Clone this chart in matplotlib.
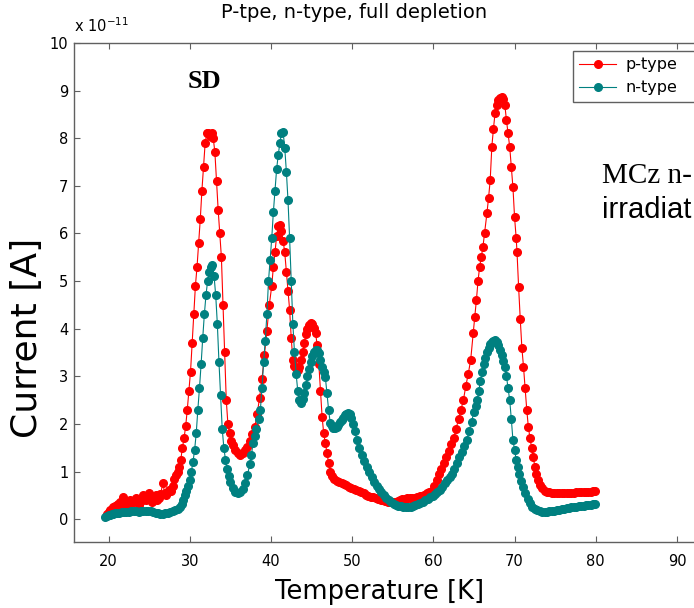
import numpy as np
import matplotlib
matplotlib.use('Agg')
import matplotlib.pyplot as plt

# p-type: temperature [K], current [x1e-11 A]
p_temp = [19.8, 20.0, 20.2, 20.4, 20.6, 20.8, 21.0, 21.2, 21.4, 21.6, 21.8, 22.0,
          22.2, 22.4, 22.6, 22.8, 23.0, 23.2, 23.4, 23.6, 23.8, 24.0, 24.2, 24.4,
          24.6, 24.8, 25.0, 25.2, 25.4, 25.6, 25.8, 26.0, 26.2, 26.4, 26.7, 26.9,
          27.1, 27.3, 27.5, 27.7, 27.9, 28.1, 28.3, 28.5, 28.7, 28.9, 29.1, 29.3,
          29.5, 29.7, 29.9, 30.1, 30.3, 30.5, 30.7, 30.9, 31.1, 31.3, 31.5, 31.7,
          31.9, 32.1, 32.3, 32.5, 32.7, 32.9, 33.1, 33.3, 33.5, 33.7, 33.9, 34.1,
          34.3, 34.5, 34.7, 34.9, 35.1, 35.3, 35.6, 35.9, 36.2, 36.5, 36.8, 37.1,
          37.4, 37.7, 38.0, 38.3, 38.6, 38.9, 39.2, 39.5, 39.8, 40.1, 40.3, 40.5,
          40.7, 40.9, 41.1, 41.3, 41.5, 41.7, 41.9, 42.1, 42.3, 42.5, 42.7, 42.9,
          43.1, 43.3, 43.5, 43.7, 43.9, 44.1, 44.3, 44.5, 44.7, 44.9, 45.1, 45.3,
          45.5, 45.7, 45.9, 46.1, 46.3, 46.5, 46.7, 46.9, 47.1, 47.3, 47.5, 47.8,
          48.1, 48.4, 48.7, 49.0, 49.3, 49.6, 49.9, 50.2, 50.5, 50.8, 51.1, 51.4,
          51.7, 52.0, 52.3, 52.6, 52.9, 53.2, 53.5, 53.8, 54.1, 54.4, 54.7, 55.0,
          55.3, 55.6, 55.9, 56.2, 56.5, 56.8, 57.1, 57.4, 57.7, 58.0, 58.3, 58.6,
          58.9, 59.2, 59.5, 59.8, 60.1, 60.4, 60.7, 61.0, 61.3, 61.6, 61.9, 62.2,
          62.5, 62.8, 63.1, 63.4, 63.7, 64.0, 64.3, 64.6, 64.9, 65.1, 65.3, 65.5,
          65.7, 65.9, 66.1, 66.3, 66.6, 66.8, 67.0, 67.2, 67.4, 67.6, 67.8, 68.0,
          68.2, 68.4, 68.6, 68.8, 69.0, 69.2, 69.4, 69.6, 69.8, 70.0, 70.2, 70.3,
          70.5, 70.7, 70.9, 71.1, 71.3, 71.5, 71.7, 71.9, 72.1, 72.3, 72.5, 72.7,
          72.9, 73.1, 73.4, 73.7, 74.0, 74.3, 74.6, 74.9, 75.2, 75.5, 75.8, 76.1,
          76.4, 76.7, 77.0, 77.3, 77.6, 77.9, 78.2, 78.5, 78.8, 79.1, 79.4, 79.7,
          79.9]
p_curr = [0.10, 0.15, 0.19, 0.22, 0.25, 0.28, 0.30, 0.32, 0.35, 0.30, 0.46, 0.33,
          0.30, 0.36, 0.40, 0.33, 0.35, 0.40, 0.45, 0.35, 0.30, 0.38, 0.50, 0.42,
          0.40, 0.48, 0.55, 0.42, 0.35, 0.42, 0.50, 0.40, 0.45, 0.52, 0.76, 0.55,
          0.50, 0.58, 0.62, 0.60, 0.70, 0.85, 0.92, 1.00, 1.10, 1.25, 1.50, 1.70,
          1.95, 2.30, 2.70, 3.10, 3.70, 4.30, 4.90, 5.30, 5.80, 6.30, 6.90, 7.40,
          7.90, 8.10, 8.10, 8.05, 8.10, 8.00, 7.70, 7.10, 6.50, 6.00, 5.50, 4.50,
          3.50, 2.50, 2.00, 1.80, 1.65, 1.55, 1.45, 1.38, 1.34, 1.38, 1.45, 1.52,
          1.65, 1.78, 1.93, 2.20, 2.55, 2.95, 3.45, 3.95, 4.50, 4.90, 5.30, 5.60,
          5.95, 6.15, 6.18, 6.05, 5.85, 5.60, 5.20, 4.80, 4.40, 3.80, 3.34, 3.22,
          3.18, 3.13, 3.20, 3.35, 3.50, 3.70, 3.88, 4.00, 4.08, 4.12, 4.10, 4.02,
          3.90, 3.65, 3.25, 2.70, 2.15, 1.80, 1.60, 1.39, 1.18, 1.00, 0.90, 0.85,
          0.81, 0.78, 0.76, 0.73, 0.71, 0.68, 0.66, 0.64, 0.62, 0.60, 0.57, 0.54,
          0.51, 0.49, 0.47, 0.46, 0.45, 0.43, 0.41, 0.40, 0.38, 0.37, 0.36, 0.36,
          0.37, 0.38, 0.40, 0.42, 0.43, 0.44, 0.44, 0.45, 0.45, 0.46, 0.48, 0.49,
          0.51, 0.54, 0.57, 0.60, 0.70, 0.82, 0.94, 1.05, 1.17, 1.30, 1.43, 1.57,
          1.70, 1.90, 2.10, 2.30, 2.50, 2.80, 3.05, 3.35, 3.90, 4.25, 4.60, 5.00,
          5.30, 5.50, 5.71, 6.00, 6.43, 6.75, 7.12, 7.82, 8.20, 8.53, 8.70, 8.80,
          8.85, 8.87, 8.83, 8.70, 8.38, 8.10, 7.82, 7.40, 6.97, 6.34, 5.90, 5.61,
          4.87, 4.20, 3.60, 3.20, 2.75, 2.30, 1.93, 1.70, 1.50, 1.30, 1.10, 0.95,
          0.82, 0.72, 0.65, 0.60, 0.57, 0.56, 0.55, 0.55, 0.55, 0.55, 0.55, 0.55,
          0.55, 0.55, 0.55, 0.55, 0.56, 0.56, 0.56, 0.57, 0.57, 0.57, 0.58, 0.59,
          0.59]

# n-type
n_temp = [19.6, 19.8, 20.0, 20.2, 20.4, 20.6, 20.8, 21.0, 21.3, 21.6, 21.9, 22.2,
          22.5, 22.8, 23.1, 23.4, 23.7, 24.0, 24.3, 24.6, 24.9, 25.2, 25.5, 25.8,
          26.1, 26.4, 26.7, 27.0, 27.3, 27.6, 27.9, 28.2, 28.5, 28.8, 29.0, 29.2,
          29.4, 29.6, 29.8, 30.0, 30.2, 30.4, 30.6, 30.8, 31.0, 31.2, 31.4, 31.6,
          31.8, 32.0, 32.2, 32.4, 32.6, 32.8, 33.0, 33.2, 33.4, 33.6, 33.8, 34.0,
          34.2, 34.4, 34.6, 34.8, 35.0, 35.3, 35.6, 35.9, 36.2, 36.5, 36.8, 37.1,
          37.4, 37.6, 37.8, 38.0, 38.2, 38.5, 38.7, 38.9, 39.1, 39.3, 39.5, 39.7,
          39.9, 40.1, 40.3, 40.5, 40.7, 40.9, 41.1, 41.3, 41.5, 41.7, 41.9, 42.1,
          42.3, 42.5, 42.7, 42.9, 43.1, 43.3, 43.5, 43.7, 43.9, 44.1, 44.3, 44.5,
          44.7, 44.9, 45.1, 45.3, 45.5, 45.7, 45.9, 46.1, 46.3, 46.5, 46.7, 46.9,
          47.1, 47.3, 47.5, 47.7, 47.9, 48.1, 48.3, 48.5, 48.7, 48.9, 49.1, 49.3,
          49.5, 49.7, 49.9, 50.1, 50.3, 50.6, 50.9, 51.2, 51.5, 51.8, 52.1, 52.4,
          52.7, 53.0, 53.3, 53.6, 53.9, 54.2, 54.5, 54.8, 55.1, 55.4, 55.7, 56.0,
          56.3, 56.6, 56.9, 57.2, 57.5, 57.8, 58.1, 58.4, 58.7, 59.0, 59.3, 59.6,
          59.9, 60.2, 60.5, 60.8, 61.1, 61.4, 61.7, 62.0, 62.3, 62.6, 62.9, 63.2,
          63.5, 63.8, 64.1, 64.4, 64.7, 65.0, 65.2, 65.4, 65.6, 65.8, 66.0, 66.2,
          66.4, 66.6, 66.8, 67.0, 67.2, 67.4, 67.6, 67.8, 68.0, 68.2, 68.4, 68.6,
          68.8, 69.0, 69.2, 69.4, 69.6, 69.8, 70.0, 70.2, 70.4, 70.6, 70.8, 71.0,
          71.3, 71.6, 71.9, 72.2, 72.5, 72.8, 73.1, 73.4, 73.7, 74.0, 74.3, 74.6,
          74.9, 75.2, 75.5, 75.8, 76.1, 76.4, 76.7, 77.0, 77.3, 77.6, 77.9, 78.2,
          78.5, 78.8, 79.1, 79.4, 79.7, 79.9]
n_curr = [0.04, 0.06, 0.08, 0.09, 0.10, 0.11, 0.12, 0.12, 0.13, 0.14, 0.15, 0.15,
          0.15, 0.16, 0.16, 0.16, 0.15, 0.16, 0.18, 0.18, 0.17, 0.16, 0.15, 0.13,
          0.12, 0.11, 0.11, 0.12, 0.13, 0.15, 0.17, 0.19, 0.22, 0.25, 0.32, 0.40,
          0.50, 0.60, 0.70, 0.82, 1.00, 1.20, 1.45, 1.80, 2.30, 2.75, 3.25, 3.80,
          4.30, 4.70, 5.00, 5.20, 5.30, 5.33, 5.10, 4.70, 4.10, 3.30, 2.60, 1.90,
          1.50, 1.25, 1.05, 0.90, 0.78, 0.65, 0.57, 0.55, 0.58, 0.64, 0.75, 0.92,
          1.15, 1.35, 1.60, 1.75, 1.90, 2.10, 2.30, 2.75, 3.30, 3.75, 4.30, 5.00,
          5.45, 5.90, 6.45, 6.90, 7.35, 7.65, 7.90, 8.10, 8.13, 7.80, 7.30, 6.70,
          5.90, 5.00, 4.10, 3.50, 3.05, 2.70, 2.50, 2.44, 2.52, 2.65, 2.82, 3.00,
          3.15, 3.30, 3.42, 3.50, 3.55, 3.55, 3.48, 3.35, 3.20, 3.08, 2.98, 2.65,
          2.30, 2.02, 1.95, 1.92, 1.92, 1.93, 1.98, 2.03, 2.08, 2.13, 2.18, 2.21,
          2.23, 2.20, 2.12, 2.00, 1.85, 1.66, 1.50, 1.35, 1.22, 1.09, 0.98, 0.88,
          0.79, 0.70, 0.63, 0.56, 0.50, 0.45, 0.40, 0.35, 0.31, 0.29, 0.28, 0.27,
          0.26, 0.25, 0.25, 0.25, 0.27, 0.29, 0.31, 0.34, 0.37, 0.40, 0.43, 0.46,
          0.49, 0.53, 0.57, 0.61, 0.68, 0.75, 0.82, 0.89, 0.95, 1.05, 1.17, 1.30,
          1.42, 1.54, 1.66, 1.85, 2.05, 2.25, 2.38, 2.50, 2.70, 2.90, 3.10, 3.25,
          3.38, 3.50, 3.60, 3.68, 3.72, 3.75, 3.76, 3.72, 3.65, 3.55, 3.45, 3.33,
          3.20, 3.00, 2.75, 2.50, 2.10, 1.66, 1.45, 1.25, 1.09, 0.95, 0.80, 0.68,
          0.55, 0.43, 0.33, 0.26, 0.22, 0.19, 0.17, 0.15, 0.15, 0.15, 0.16, 0.17,
          0.18, 0.19, 0.20, 0.21, 0.22, 0.23, 0.24, 0.25, 0.25, 0.26, 0.27, 0.27,
          0.28, 0.29, 0.29, 0.30, 0.31, 0.31]

series_labels = ['p-type', 'n-type']
series_colors = ['#ff0000', '#008080']
x_ticks = [20, 30, 40, 50, 60, 70, 80, 90]
y_ticks = list(range(0, 11))

fig = plt.figure(figsize=(6.94, 6.08), dpi=100)
# the original is cropped on the right: axes run up to the picture edge
ax = fig.add_axes([74 / 694.0, 0.1086, 620 / 694.0, 0.8207])

for temp, curr, lab, col in zip([p_temp, n_temp], [p_curr, n_curr],
                                series_labels, series_colors):
    ax.plot(temp, curr, '-o', color=col, lw=0.8, ms=5.5, mec=col, label=lab)

ax.set_xlim(15.75, 15.75 + 620 / 8.121)
ax.set_ylim(-0.48, 10)
ax.set_xticks(x_ticks)
ax.set_yticks(y_ticks)
ax.tick_params(direction='in', top=True, right=False, length=4.5, width=0.8,
               color='#606060', labelsize=10.5)
ax.tick_params(axis='x', pad=9)
ax.tick_params(axis='y', pad=4)
for side in ['top', 'bottom', 'left']:
    ax.spines[side].set_color('#606060')
    ax.spines[side].set_linewidth(1.0)
ax.spines['right'].set_visible(False)

ax.set_xlabel('Temperature [K]', fontsize=18.5, va='center')
ax.xaxis.set_label_coords(380 / 694.0, 1 - 592 / 608.0, transform=fig.transFigure)
fig.text(27 / 694.0, 1 - 338 / 608.0, 'Current [A]', rotation=90,
         ha='center', va='center', fontsize=26)
fig.text(354 / 694.0, 1 - 13 / 608.0, 'P-tpe, n-type, full depletion',
         ha='center', va='center', fontsize=14)
fig.text(74 / 694.0, 1 - 32 / 608.0, r'x 10$^{-11}$', ha='left',
         va='baseline', fontsize=10.5)

fig.text(204 / 694.0, 1 - 82 / 608.0, 'SD', ha='center', va='center',
         fontsize=19, fontweight='bold', family='Liberation Serif')
fig.text(602 / 694.0, 1 - 183 / 608.0, 'MCz n-', ha='left', va='baseline',
         fontsize=21, family='Liberation Serif')
fig.text(602 / 694.0, 1 - 218 / 608.0, 'irradiat', ha='left', va='baseline',
         fontsize=21, family='Liberation Sans')

leg = ax.legend(loc='upper left',
                bbox_to_anchor=(573 / 694.0, 1 - 104 / 608.0, 0.2, 53 / 608.0),
                bbox_transform=fig.transFigure, mode='expand', borderaxespad=0,
                fontsize=11.5, numpoints=1, handlelength=2.3, handletextpad=0.6,
                labelspacing=0.5, borderpad=0.4, fancybox=False,
                framealpha=1, edgecolor='#606060')
leg.get_frame().set_linewidth(1.0)

fig.savefig('out.png', dpi=100)
